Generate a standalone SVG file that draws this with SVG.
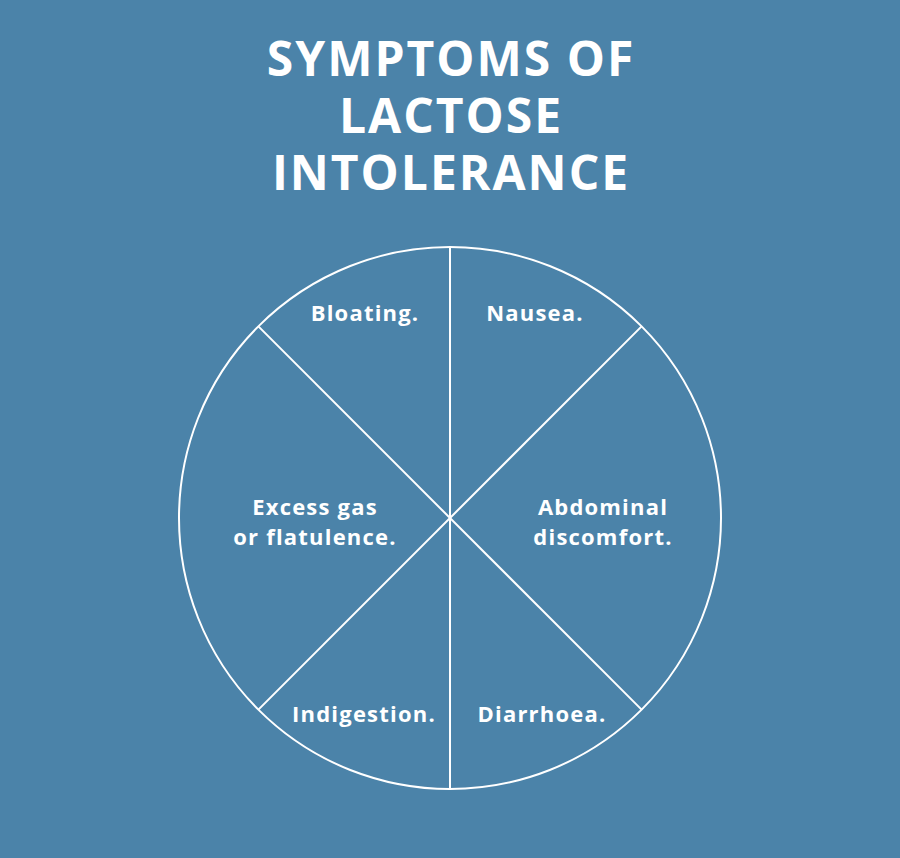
<svg xmlns="http://www.w3.org/2000/svg" width="900" height="858" viewBox="0 0 900 858">
<style>
.t{font-family:"Open Sans","DejaVu Sans",sans-serif;font-weight:bold;fill:#fff;text-anchor:middle}
.h{font-size:48px;letter-spacing:2px}
.l{font-size:22px;letter-spacing:1.2px}
.s{stroke:#fff;stroke-width:2;fill:none}
</style>
<rect width="900" height="858" fill="#4b83a9"/>
<g id="title"><text class="t h" x="451" y="76">SYMPTOMS OF</text><text class="t h" x="451" y="133">LACTOSE</text><text class="t h" x="451" y="190">INTOLERANCE</text></g>
<g id="connectors">
<circle class="s" cx="450" cy="518" r="271"/>
<line class="s" x1="450" y1="247" x2="450" y2="789"/>
<line class="s" x1="258.4" y1="326.4" x2="641.6" y2="709.6"/>
<line class="s" x1="641.6" y1="326.4" x2="258.4" y2="709.6"/>
</g>
<g id="n1"><text class="t l" x="365" y="321">Bloating.</text></g>
<g id="n2"><text class="t l" x="535" y="321">Nausea.</text></g>
<g id="n3"><text class="t l" x="603" y="515">Abdominal</text><text class="t l" x="603" y="545">discomfort.</text></g>
<g id="n4"><text class="t l" x="542" y="722">Diarrhoea.</text></g>
<g id="n5"><text class="t l" x="364" y="722">Indigestion.</text></g>
<g id="n6"><text class="t l" x="315" y="515">Excess gas</text><text class="t l" x="315" y="545">or flatulence.</text></g>
</svg>
